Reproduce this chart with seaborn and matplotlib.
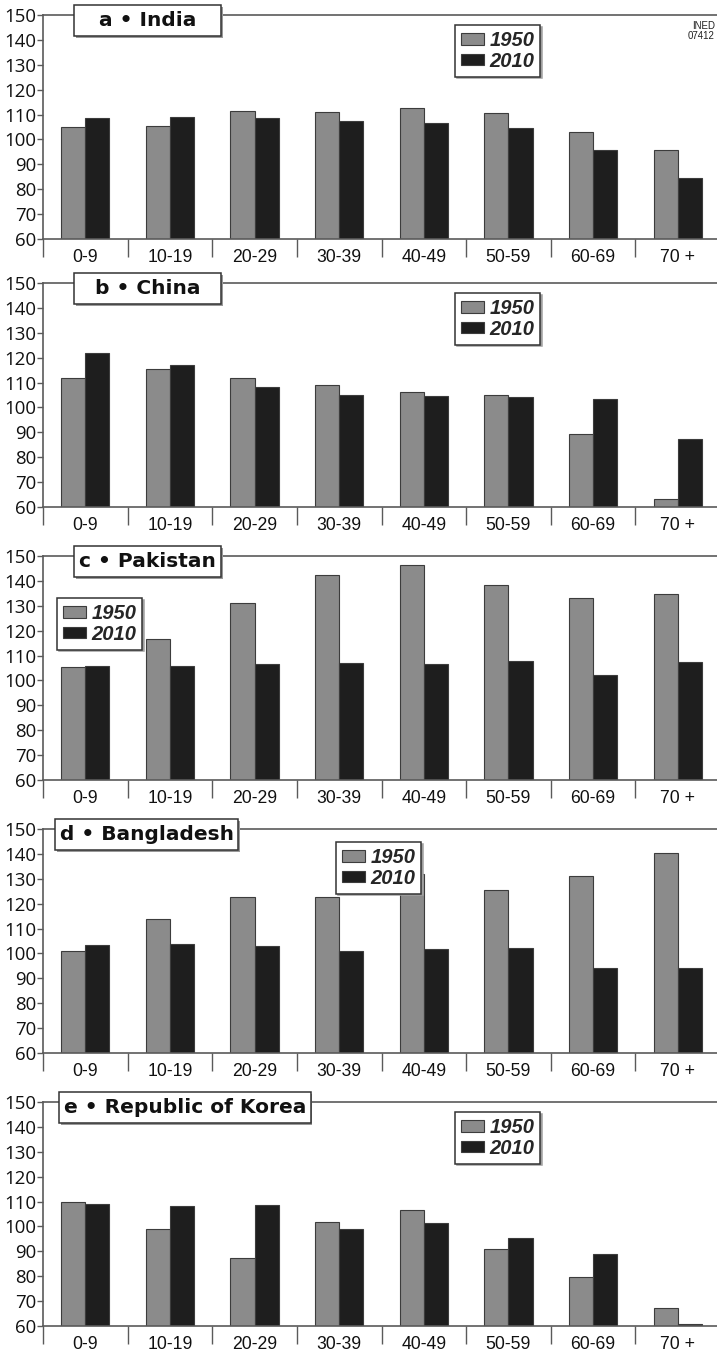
import matplotlib
matplotlib.use("Agg")
import matplotlib.pyplot as plt
from matplotlib.patches import Rectangle
from matplotlib.ticker import FixedLocator
import seaborn as sns
import pandas as pd

# ---------------- data ----------------
ages = ['0-9', '10-19', '20-29', '30-39', '40-49', '50-59', '60-69', '70 +']
years = ['1950', '2010']

india_1950 = [105.0, 105.5, 111.5, 111.0, 112.5, 110.5, 102.9, 95.7]
india_2010 = [108.5, 109.0, 108.5, 107.5, 106.5, 104.5, 95.7, 84.4]
china_1950 = [111.7, 115.4, 111.7, 109.2, 106.3, 104.8, 89.2, 63.3]
china_2010 = [121.8, 117.2, 108.3, 105.1, 104.7, 104.0, 103.2, 87.3]
pakistan_1950 = [105.4, 116.5, 131.0, 142.5, 146.5, 138.4, 133.0, 134.8]
pakistan_2010 = [106.0, 105.7, 106.5, 106.9, 106.8, 107.7, 102.1, 107.6]
bangladesh_1950 = [101.0, 114.0, 122.5, 122.6, 132.0, 125.5, 131.0, 140.3]
bangladesh_2010 = [103.3, 103.8, 103.0, 101.0, 101.8, 102.3, 94.0, 94.3]
korea_1950 = [109.7, 98.9, 87.2, 101.7, 106.7, 90.8, 79.5, 67.2]
korea_2010 = [108.9, 108.3, 108.6, 99.0, 101.4, 95.3, 89.1, 60.9]

titles = ['a \u2022 India', 'b \u2022 China', 'c \u2022 Pakistan',
          'd \u2022 Bangladesh', 'e \u2022 Republic of Korea']
series = [(india_1950, india_2010), (china_1950, china_2010),
          (pakistan_1950, pakistan_2010), (bangladesh_1950, bangladesh_2010),
          (korea_1950, korea_2010)]
yticks = list(range(60, 151, 10))

# ---------------- layout (pixels) ----------------
W, H = 717, 1352
ax_left, ax_right = 43, 720
panel_tops = [15, 283, 556, 829, 1102]
panel_h = 224
title_boxes = [(74, 147), (74, 147), (74, 147), (55, 183), (59, 252)]   # x, width
legend_pos = [(455, 25), (455, 293), (57, 598), (336, 842), (455, 1112)]

sns.set_style('white')
plt.rcParams['font.family'] = ['Liberation Sans', 'DejaVu Sans']

fig = plt.figure(figsize=(W / 100, H / 100), dpi=100)

pal = {'1950': '#8b8b8b', '2010': '#1e1e1e'}
spine_c = '#5a5a5a'

def fx(x):
    return x / W

def fy(y):
    return 1 - y / H

for i in range(5):
    top = panel_tops[i]
    ax = fig.add_axes([fx(ax_left), fy(top + panel_h), (ax_right - ax_left) / W, panel_h / H])
    v50, v10 = series[i]
    df = pd.DataFrame({
        'age': ages * 2,
        'ratio': list(v50) + list(v10),
        'year': ['1950'] * len(ages) + ['2010'] * len(ages),
    })
    sns.barplot(data=df, x='age', y='ratio', hue='year', hue_order=years,
                palette=pal, width=0.57, edgecolor='#3c3c3c', linewidth=0.8,
                saturation=1, ax=ax)
    ax.set_ylim(60, 150)
    ax.set_xlim(-0.5, 7.5)
    ax.set_xlabel('')
    ax.set_ylabel('')
    for s in ['left', 'top', 'bottom', 'right']:
        ax.spines[s].set_visible(True)
        ax.spines[s].set_color(spine_c)
        ax.spines[s].set_linewidth(1.2)
    ax.set_yticks(yticks)
    ax.set_yticklabels([str(t) for t in yticks], family='Open Sans', fontsize=13.4)
    ax.tick_params(axis='y', direction='out', length=4, width=1, color=spine_c,
                   pad=1, left=True, labelcolor='#111')
    ax.set_xticks(range(len(ages)))
    ax.set_xticklabels(ages, family='Liberation Sans', fontsize=12.7)
    ax.tick_params(axis='x', which='major', length=0, pad=7.5, labelcolor='#111')
    ax.xaxis.set_minor_locator(FixedLocator([k - 0.5 for k in range(len(ages) + 1)]))
    ax.tick_params(axis='x', which='minor', direction='out', length=13, width=1,
                   color=spine_c, bottom=True)

    handles, labels = ax.get_legend_handles_labels()
    lx, ly = legend_pos[i]
    leg = ax.legend(handles, labels, loc='upper left',
                    bbox_to_anchor=(fx(lx), fy(ly)), bbox_transform=fig.transFigure,
                    prop={'family': 'Liberation Sans', 'weight': 'bold',
                          'style': 'italic', 'size': 14.5},
                    frameon=True, fancybox=False, borderpad=0.3, labelspacing=0.08,
                    handlelength=1.15, handleheight=0.5, handletextpad=0.25,
                    borderaxespad=0,
                    shadow={'ox': 1.2, 'oy': -1.2, 'color': '#a0a0a0', 'alpha': 1})
    leg.get_frame().set_edgecolor('#333333')
    leg.get_frame().set_linewidth(1.1)

    # title box
    bx, bw = title_boxes[i]
    by, bh = top - 10, 31
    fig.add_artist(Rectangle((fx(bx + 1.5), fy(by + bh + 1.5)), bw / W, bh / H,
                             transform=fig.transFigure, facecolor='#999999',
                             edgecolor='none', zorder=5))
    fig.add_artist(Rectangle((fx(bx), fy(by + bh)), bw / W, bh / H,
                             transform=fig.transFigure, facecolor='white',
                             edgecolor='#333333', linewidth=1.1, zorder=6))
    fig.text(fx(bx + bw / 2), fy(by + bh / 2), titles[i], ha='center', va='center',
             family='DejaVu Sans', fontweight='bold', fontsize=14.5, color='#111',
             zorder=7)

fig.text(fx(715), fy(21), 'INED\n07412', ha='right', va='top',
         family='Liberation Sans', fontsize=7, linespacing=0.95,
         color='#222', stretch='condensed')

fig.savefig('out.png', dpi=100)
